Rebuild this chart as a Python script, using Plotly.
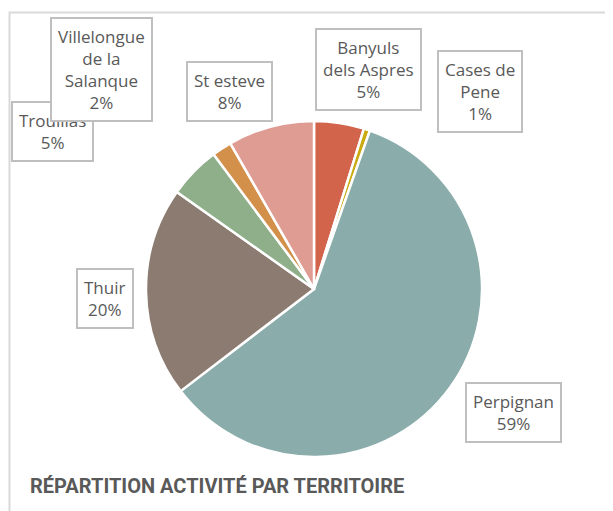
import plotly.graph_objects as go

territoires = ["Banyuls<br>dels Aspres", "Cases de<br>Pene", "Perpignan", "Thuir",
               "Trouillas", "Villelongue<br>de la<br>Salanque", "St esteve"]
valeurs = [4.8, 0.6, 59.2, 20.2, 5.0, 1.9, 8.3]
couleurs = ["#D1644B", "#C9AA10", "#8AACAB", "#8B7B70", "#8FAE8A", "#D3904A", "#DF9C93"]

# label box centres (pixels in the browser page)
label_px = {
    "Banyuls<br>dels Aspres": (368, 69),
    "Cases de<br>Pene": (480, 91),
    "Perpignan": (514, 412),
    "Thuir": (105, 298),
    "Trouillas": (52, 131),
    "Villelongue<br>de la<br>Salanque": (101, 69),
    "St esteve": (229, 91),
}

OFF = 8  # default body margin of the html page
W, H = 613 - OFF, 511 - OFF


def fx(px):
    return (px - OFF) / W


def fy(py):
    return 1 - (py - OFF) / H


cx, cy, r = 314, 289, 168

fig = go.Figure(go.Pie(
    labels=territoires, values=valeurs, sort=False, direction="clockwise",
    rotation=0, textinfo="none", hoverinfo="label+percent",
    marker=dict(colors=couleurs, line=dict(color="white", width=2.5)),
    domain=dict(x=[fx(cx - r), fx(cx + r)], y=[fy(cy + r), fy(cy - r)]),
    showlegend=False,
))

total = sum(valeurs)
annotations = []
order = ["Trouillas", "Villelongue<br>de la<br>Salanque", "St esteve", "Banyuls<br>dels Aspres",
         "Cases de<br>Pene", "Thuir", "Perpignan"]
for name in order:
    v = valeurs[territoires.index(name)]
    px, py = label_px[name]
    annotations.append(dict(
        x=fx(px), y=fy(py), xref="paper", yref="paper",
        xanchor="center", yanchor="middle", showarrow=False,
        text=f"{name}<br>{round(100 * v / total)}%",
        font=dict(family="Open Sans, sans-serif", size=17, color="#595959"),
        bgcolor="white", bordercolor="#BFBFBF", borderwidth=2, borderpad=6,
    ))

annotations.append(dict(
    x=fx(28), y=fy(486), xref="paper", yref="paper",
    xanchor="left", yanchor="middle", showarrow=False,
    text="<b>RÉPARTITION ACTIVITÉ PAR TERRITOIRE</b>",
    font=dict(family="Roboto, sans-serif", size=20, color="#595959"),
))

fig.update_layout(
    width=W, height=H, margin=dict(l=0, r=0, t=0, b=0),
    paper_bgcolor="white", plot_bgcolor="white",
    annotations=annotations,
    shapes=[dict(type="rect", xref="paper", yref="paper",
                 x0=fx(9.5), x1=1.2, y0=-0.2, y1=fy(12.5),
                 line=dict(color="#D9D9D9", width=2), layer="below")],
)

fig.write_html("out.html")
